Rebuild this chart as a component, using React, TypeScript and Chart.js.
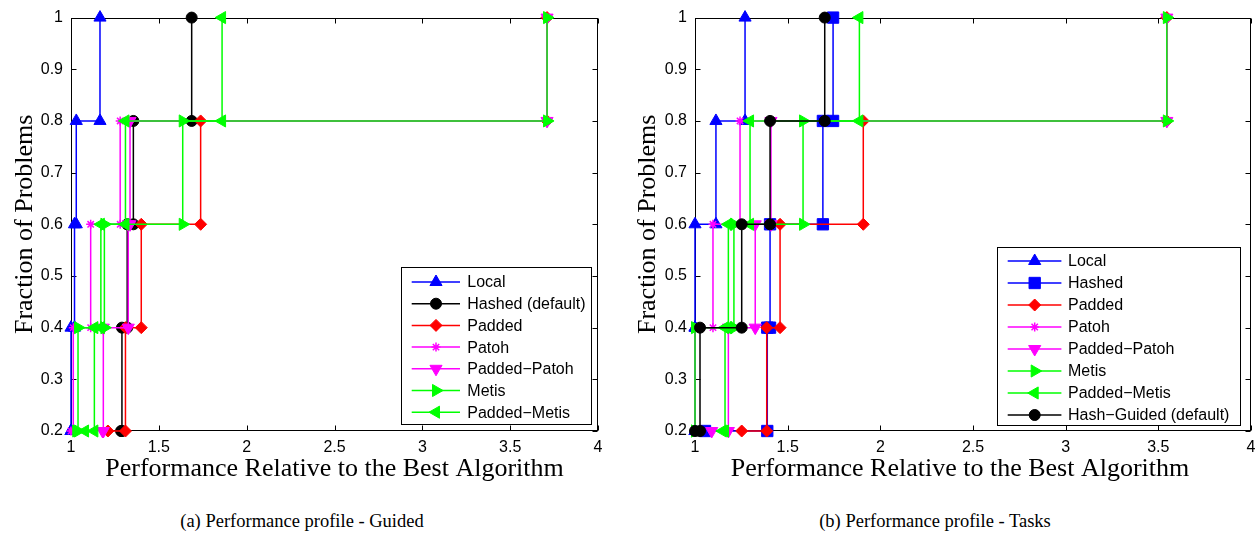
import React, { useEffect, useRef } from "react";
import { Chart, registerables } from "chart.js";
import { drawPoint } from "chart.js/helpers";

Chart.register(...registerables);

// ---------- shared data ----------
const FRACTIONS = [0.2, 0.4, 0.6, 0.8, 1.0];
const X_TICKS = [1, 1.5, 2, 2.5, 3, 3.5, 4];
const Y_TICKS = [0.2, 0.3, 0.4, 0.5, 0.6, 0.7, 0.8, 0.9, 1];
const X_TITLE = "Performance Relative to the Best Algorithm";
const Y_TITLE = "Fraction of Problems";

// ---------- (a) Guided ----------
const GUIDED_CAPTION = "(a) Performance profile - Guided";
const GUIDED_NAMES = ["Local", "Hashed (default)", "Padded", "Patoh", "Padded\u2212Patoh", "Metis", "Padded\u2212Metis"];
const GUIDED_LOCAL = [1.0, 1.0, 1.02, 1.03, 1.165];
const GUIDED_HASHED = [1.285, 1.29, 1.32, 1.355, 1.687];
const GUIDED_PADDED = [1.21, 1.31, 1.4, 1.738, 3.71];
const GUIDED_PATOH = [1.0, 1.013, 1.112, 1.28, 3.71];
const GUIDED_PADDED_PATOH = [1.18, 1.184, 1.326, 1.336, 3.71];
const GUIDED_METIS = [1.03, 1.04, 1.19, 1.636, 3.71];
const GUIDED_PADDED_METIS = [1.08, 1.133, 1.17, 1.31, 1.86];

// ---------- (b) Tasks ----------
const TASKS_CAPTION = "(b) Performance profile - Tasks";
const TASKS_NAMES = ["Local", "Hashed", "Padded", "Patoh", "Padded\u2212Patoh", "Metis", "Padded\u2212Metis", "Hash\u2212Guided (default)"];
const TASKS_LOCAL = [1.0, 1.0, 1.0, 1.113, 1.27];
const TASKS_HASHED = [1.054, 1.39, 1.405, 1.69, 1.745];
const TASKS_PADDED = [1.252, 1.387, 1.459, 1.908, 3.546];
const TASKS_PATOH = [1.0, 1.0, 1.097, 1.243, 3.546];
const TASKS_PADDED_PATOH = [1.09, 1.18, 1.325, 1.41, 3.546];
const TASKS_METIS = [1.0, 1.0, 1.21, 1.583, 3.546];
const TASKS_PADDED_METIS = [1.15, 1.162, 1.18, 1.297, 1.887];
const TASKS_HASH_GUIDED = [1.0, 1.027, 1.252, 1.405, 1.7];

// ---------- styles ----------
const BLUE = "#0000ff", BLACK = "#000000", RED = "#ff0000", MAGENTA = "#ff00ff", GREEN = "#00ff00";
const GUIDED_COLORS = [BLUE, BLACK, RED, MAGENTA, MAGENTA, GREEN, GREEN];
const GUIDED_MARKERS = ["triangle", "circle", "rectRot", "star", "triangle", "triangle", "triangle"];
const GUIDED_ROT = [0, 0, 0, 0, 180, 90, 270];
const GUIDED_RADII = [7, 5.5, 6, 4.5, 7, 7, 7];
const TASKS_COLORS = [BLUE, BLUE, RED, MAGENTA, MAGENTA, GREEN, GREEN, BLACK];
const TASKS_MARKERS = ["triangle", "rect", "rectRot", "star", "triangle", "triangle", "triangle", "circle"];
const TASKS_ROT = [0, 0, 0, 0, 180, 90, 270, 0];
const TASKS_RADII = [7, 8, 6, 4.5, 7, 7, 7, 5.5];

const SANS = "'Liberation Sans', Arial, Helvetica, sans-serif";
const SERIF = "'Liberation Serif', 'Times New Roman', serif";

function stairs(ratios: number[]) {
  const pts: { x: number; y: number }[] = [];
  ratios.forEach((r, i) => {
    if (i > 0) pts.push({ x: r, y: FRACTIONS[i - 1] });
    pts.push({ x: r, y: FRACTIONS[i] });
  });
  return pts;
}

const fmt = (v: any) => String(Math.round(Number(v) * 100) / 100);

type LegendSpec = {
  offRight: number; offBottom: number; w: number; h: number;
  firstRow: number; rowStep: number; lineX0: number; lineX1: number; markerX: number; textX: number;
};

type PanelSpec = {
  names: string[]; series: number[][]; colors: string[]; markers: string[]; rotations: number[]; radii: number[];
  width: number; height: number; yAxisWidth: number; padRight: number; plotBottom: number;
  legend: LegendSpec; xTitleX: number; yTitleX: number;
};

function buildConfig(spec: PanelSpec): any {
  const datasets = spec.series.map((r, i) => ({
    label: spec.names[i],
    data: stairs(r),
    borderColor: spec.colors[i],
    backgroundColor: spec.colors[i],
    borderWidth: 1.5,
    pointStyle: spec.markers[i],
    pointRotation: spec.rotations[i],
    pointRadius: spec.radii[i],
    pointHoverRadius: spec.radii[i],
    pointBackgroundColor: spec.colors[i],
    pointBorderColor: spec.colors[i],
    pointBorderWidth: spec.markers[i] === "star" ? 1.5 : 1,
    fill: false,
    tension: 0,
    clip: false,
    order: -i,
  }));

  const decor = {
    id: "decor",
    beforeDatasetsDraw(chart: any) {
      const { ctx, chartArea } = chart;
      const { left, right, top, bottom } = chartArea;
      const xs = chart.scales.x, ys = chart.scales.y;
      ctx.save();
      ctx.strokeStyle = "#000";
      ctx.lineWidth = 1;
      const L = Math.round(left) + 0.5, R = Math.round(right) - 0.5, T = Math.round(top) + 0.5, B = Math.round(bottom) - 0.5;
      ctx.strokeRect(L, T, R - L, B - T);
      const tl = 5;
      ctx.beginPath();
      X_TICKS.forEach((v) => {
        const px = Math.round(xs.getPixelForValue(v)) + 0.5;
        ctx.moveTo(px, B); ctx.lineTo(px, B - tl);
        ctx.moveTo(px, T); ctx.lineTo(px, T + tl);
      });
      Y_TICKS.forEach((v) => {
        const py = Math.round(ys.getPixelForValue(v)) + 0.5;
        ctx.moveTo(L, py); ctx.lineTo(L + tl, py);
        ctx.moveTo(R, py); ctx.lineTo(R - tl, py);
      });
      ctx.stroke();
      ctx.restore();
    },
    afterDatasetsDraw(chart: any) {
      const { ctx, chartArea } = chart;
      const lg = spec.legend;
      const bx = Math.round(chartArea.right - lg.offRight - lg.w);
      const by = Math.round(chartArea.bottom - lg.offBottom - lg.h);
      ctx.save();
      ctx.fillStyle = "#fff";
      ctx.fillRect(bx, by, lg.w, lg.h);
      ctx.strokeStyle = "#000";
      ctx.lineWidth = 1;
      ctx.strokeRect(bx + 0.5, by + 0.5, Math.round(lg.w), Math.round(lg.h));
      spec.names.forEach((name, i) => {
        const yy = by + lg.firstRow + i * lg.rowStep;
        const c = spec.colors[i];
        ctx.strokeStyle = c;
        ctx.lineWidth = 1.5;
        ctx.beginPath();
        ctx.moveTo(bx + lg.lineX0, yy);
        ctx.lineTo(bx + lg.lineX1, yy);
        ctx.stroke();
        ctx.fillStyle = c;
        ctx.lineWidth = spec.markers[i] === "star" ? 1.5 : 1;
        drawPoint(ctx, {
          pointStyle: spec.markers[i] as any,
          rotation: spec.rotations[i],
          radius: spec.radii[i],
          borderWidth: spec.markers[i] === "star" ? 1.5 : 1,
        } as any, bx + lg.markerX, yy);
        ctx.fillStyle = "#000";
        ctx.font = `16px ${SANS}`;
        ctx.textAlign = "left";
        ctx.textBaseline = "middle";
        ctx.fillText(name, bx + lg.textX, yy + 1);
      });
      ctx.restore();
    },
    afterDraw(chart: any) {
      const { ctx, chartArea } = chart;
      ctx.save();
      ctx.fillStyle = "#000";
      ctx.font = `26px ${SERIF}`;
      ctx.textAlign = "center";
      ctx.textBaseline = "alphabetic";
      ctx.fillText(X_TITLE, spec.xTitleX, 476);
      ctx.translate(spec.yTitleX, (chartArea.top + chartArea.bottom) / 2);
      ctx.rotate(-Math.PI / 2);
      ctx.fillText(Y_TITLE, 0, 0);
      ctx.restore();
    },
  };

  return {
    type: "line",
    data: { datasets },
    options: {
      animation: false,
      responsive: false,
      maintainAspectRatio: false,
      devicePixelRatio: 1,
      events: [],
      layout: { padding: { left: 0, right: spec.padRight, top: 14, bottom: 0 } },
      scales: {
        x: {
          type: "linear",
          min: 1,
          max: 4,
          afterBuildTicks: (s: any) => { s.ticks = X_TICKS.map((v) => ({ value: v })); },
          afterFit: (s: any) => { s.height = spec.height - spec.plotBottom; },
          ticks: { font: { family: SANS, size: 16 }, color: "#000", padding: 7, maxRotation: 0, autoSkip: false, callback: fmt },
          grid: { display: false, drawTicks: false },
          border: { display: false },
        },
        y: {
          type: "linear",
          min: 0.2,
          max: 1,
          afterBuildTicks: (s: any) => { s.ticks = Y_TICKS.map((v) => ({ value: v })); },
          afterFit: (s: any) => { s.width = spec.yAxisWidth; },
          ticks: { font: { family: SANS, size: 16 }, color: "#000", padding: 8, autoSkip: false, callback: fmt },
          grid: { display: false, drawTicks: false },
          border: { display: false },
        },
      },
      plugins: { legend: { display: false }, tooltip: { enabled: false }, title: { display: false } },
    },
    plugins: [decor],
  };
}

const GUIDED_SPEC: PanelSpec = {
  names: GUIDED_NAMES,
  series: [GUIDED_LOCAL, GUIDED_HASHED, GUIDED_PADDED, GUIDED_PATOH, GUIDED_PADDED_PATOH, GUIDED_METIS, GUIDED_PADDED_METIS],
  colors: GUIDED_COLORS, markers: GUIDED_MARKERS, rotations: GUIDED_ROT, radii: GUIDED_RADII,
  width: 620, height: 490, yAxisWidth: 71, padRight: 22, plotBottom: 431,
  legend: { offRight: 7.3, offBottom: 7, w: 190, h: 157, firstRow: 15, rowStep: 21.7, lineX0: 10.7, lineX1: 59, markerX: 35, textX: 66.3 },
  xTitleX: 334.5, yTitleX: 32,
};

const TASKS_SPEC: PanelSpec = {
  names: TASKS_NAMES,
  series: [TASKS_LOCAL, TASKS_HASHED, TASKS_PADDED, TASKS_PATOH, TASKS_PADDED_PATOH, TASKS_METIS, TASKS_PADDED_METIS, TASKS_HASH_GUIDED],
  colors: TASKS_COLORS, markers: TASKS_MARKERS, rotations: TASKS_ROT, radii: TASKS_RADII,
  width: 651, height: 490, yAxisWidth: 75, padRight: 20, plotBottom: 431,
  legend: { offRight: 11, offBottom: 6, w: 243, h: 178, firstRow: 14, rowStep: 22, lineX0: 10.7, lineX1: 64.4, markerX: 37.7, textX: 71 },
  xTitleX: 340, yTitleX: 35,
};

function Panel({ spec, left }: { spec: PanelSpec; left: number }) {
  const ref = useRef<HTMLCanvasElement>(null);
  useEffect(() => {
    const canvas = ref.current;
    if (!canvas) return;
    const chart = new Chart(canvas, buildConfig(spec));
    return () => chart.destroy();
  }, [spec]);
  return (
    <canvas
      ref={ref}
      width={spec.width}
      height={spec.height}
      style={{ position: "absolute", left, top: 0, width: spec.width, height: spec.height, display: "block" }}
    />
  );
}

export default function App() {
  const cap: React.CSSProperties = {
    position: "absolute", top: 509, width: 400, textAlign: "center",
    fontFamily: SERIF, fontSize: 18.5, lineHeight: "24px", color: "#000", whiteSpace: "nowrap",
  };
  return (
    <div style={{ position: "absolute", left: 0, top: 0, width: 1257, height: 533, background: "#fff", overflow: "hidden" }}>
      <Panel spec={GUIDED_SPEC} left={0} />
      <Panel spec={TASKS_SPEC} left={620} />
      <div style={{ ...cap, left: 102 }}>{GUIDED_CAPTION}</div>
      <div style={{ ...cap, left: 735 }}>{TASKS_CAPTION}</div>
    </div>
  );
}
